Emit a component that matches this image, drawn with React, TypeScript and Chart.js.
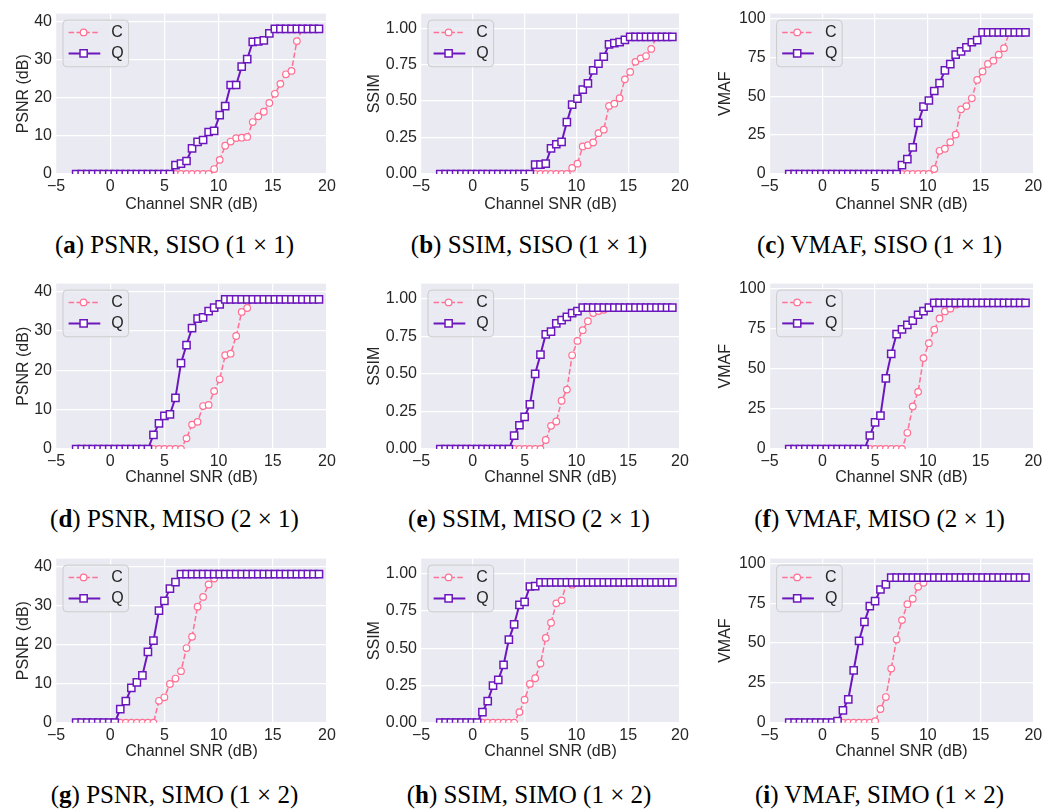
import React, { useEffect, useRef } from "react";
import { Chart, registerables } from "chart.js";

Chart.register(...registerables);

// ---------- data ----------
const snr = [-3.14, -2.63, -2.12, -1.61, -1.1, -0.6, -0.09, 0.42, 0.93, 1.44, 1.95, 2.46, 2.97, 3.48, 3.99, 4.5, 5.0, 5.51, 6.02, 6.53, 7.04, 7.55, 8.06, 8.57, 9.08, 9.59, 10.1, 10.61, 11.11, 11.62, 12.13, 12.64, 13.15, 13.66, 14.17, 14.68, 15.19, 15.7, 16.21, 16.72, 17.22, 17.73, 18.24, 18.75, 19.26];

const xTicks = [-5, 0, 5, 10, 15, 20];
const psnrTicks = [0, 10, 20, 30, 40];
const ssimTicks = [0, 0.25, 0.5, 0.75, 1.0];
const vmafTicks = [0, 25, 50, 75, 100];
const seriesLabels = ["C", "Q"];

// SISO (1x1)
const psnrSisoQ = [0, 0, 0, 0, 0, 0, 0, 0, 0, 0, 0, 0, 0, 0, 0, 0, 0, 0, 2.3, 2.7, 3.4, 6.7, 8.4, 8.9, 11.0, 11.3, 15.4, 17.8, 23.3, 23.3, 28.1, 30.1, 34.6, 34.7, 35.0, 36.8, 38, 38, 38, 38, 38, 38, 38, 38, 38];
const psnrSisoC = [0, 0, 0, 0, 0, 0, 0, 0, 0, 0, 0, 0, 0, 0, 0, 0, 0, 0, 0, 0, 0, 0, 0, 0, 0, 1.3, 3.7, 7.4, 8.5, 9.4, 9.5, 9.7, 13.6, 15.1, 16.3, 18.6, 21.0, 23.6, 26.1, 27.0, 34.8, 38, 38, 38, 38];
const ssimSisoQ = [0, 0, 0, 0, 0, 0, 0, 0, 0, 0, 0, 0, 0, 0, 0, 0, 0, 0, 0.064, 0.064, 0.071, 0.176, 0.204, 0.22, 0.356, 0.476, 0.516, 0.578, 0.622, 0.711, 0.756, 0.804, 0.889, 0.898, 0.904, 0.92, 0.94, 0.94, 0.94, 0.94, 0.94, 0.94, 0.94, 0.94, 0.94];
const ssimSisoC = [0, 0, 0, 0, 0, 0, 0, 0, 0, 0, 0, 0, 0, 0, 0, 0, 0, 0, 0, 0, 0, 0, 0, 0, 0, 0.042, 0.071, 0.189, 0.198, 0.216, 0.28, 0.304, 0.467, 0.482, 0.52, 0.649, 0.7, 0.769, 0.793, 0.809, 0.858, 0.94, 0.94, 0.94, 0.94];
const vmafSisoQ = [0, 0, 0, 0, 0, 0, 0, 0, 0, 0, 0, 0, 0, 0, 0, 0, 0, 0, 0, 0, 0, 5.7, 9.5, 17.1, 32.8, 43.2, 47.2, 53.3, 58.3, 66.5, 70.5, 76.6, 78.7, 81.3, 84.6, 85.9, 91, 91, 91, 91, 91, 91, 91, 91, 91];
const vmafSisoC = [0, 0, 0, 0, 0, 0, 0, 0, 0, 0, 0, 0, 0, 0, 0, 0, 0, 0, 0, 0, 0, 0, 0, 0, 0, 0, 0, 3.2, 14.9, 16.2, 20.4, 25.3, 41.5, 43.6, 48.6, 60.4, 65.9, 70.7, 72.8, 76.6, 80.8, 91, 91, 91, 91];

// MISO (2x1)
const psnrMisoQ = [0, 0, 0, 0, 0, 0, 0, 0, 0, 0, 0, 0, 0, 0, 3.6, 6.5, 8.4, 8.8, 13.0, 21.8, 26.4, 30.7, 33.1, 33.4, 35.0, 35.9, 36.7, 38, 38, 38, 38, 38, 38, 38, 38, 38, 38, 38, 38, 38, 38, 38, 38, 38, 38];
const psnrMisoC = [0, 0, 0, 0, 0, 0, 0, 0, 0, 0, 0, 0, 0, 0, 0, 0, 0, 0, 0, 0, 2.7, 6.2, 6.9, 10.9, 11.2, 14.7, 17.7, 23.8, 24.2, 28.7, 34.8, 35.8, 38, 38, 38, 38, 38, 38, 38, 38, 38, 38, 38, 38, 38];
const ssimMisoQ = [0, 0, 0, 0, 0, 0, 0, 0, 0, 0, 0, 0, 0, 0, 0.089, 0.158, 0.214, 0.297, 0.5, 0.627, 0.763, 0.781, 0.835, 0.857, 0.879, 0.904, 0.917, 0.94, 0.94, 0.94, 0.94, 0.94, 0.94, 0.94, 0.94, 0.94, 0.94, 0.94, 0.94, 0.94, 0.94, 0.94, 0.94, 0.94, 0.94];
const ssimMisoC = [0, 0, 0, 0, 0, 0, 0, 0, 0, 0, 0, 0, 0, 0, 0, 0, 0, 0, 0, 0, 0.06, 0.154, 0.183, 0.321, 0.395, 0.623, 0.719, 0.79, 0.85, 0.904, 0.917, 0.926, 0.94, 0.94, 0.94, 0.94, 0.94, 0.94, 0.94, 0.94, 0.94, 0.94, 0.94, 0.94, 0.94];
const vmafMisoQ = [0, 0, 0, 0, 0, 0, 0, 0, 0, 0, 0, 0, 0, 0, 0, 8.4, 16.6, 20.8, 44.0, 59.2, 71.6, 74.5, 77.3, 80.0, 83.6, 85.9, 88.0, 91, 91, 91, 91, 91, 91, 91, 91, 91, 91, 91, 91, 91, 91, 91, 91, 91, 91];
const vmafMisoC = [0, 0, 0, 0, 0, 0, 0, 0, 0, 0, 0, 0, 0, 0, 0, 0, 0, 0, 0, 0, 0, 0, 10.1, 26.5, 35.6, 56.6, 65.9, 74.3, 81.3, 85.7, 87.4, 89.9, 91, 91, 91, 91, 91, 91, 91, 91, 91, 91, 91, 91, 91];

// SIMO (1x2)
const psnrSimoQ = [0, 0, 0, 0, 0, 0, 0, 0, 3.5, 5.5, 8.9, 10.3, 12.1, 18.1, 21.0, 28.7, 31.2, 34.3, 36.0, 38, 38, 38, 38, 38, 38, 38, 38, 38, 38, 38, 38, 38, 38, 38, 38, 38, 38, 38, 38, 38, 38, 38, 38, 38, 38];
const psnrSimoC = [0, 0, 0, 0, 0, 0, 0, 0, 0, 0, 0, 0, 0, 0, 0, 5.6, 6.5, 9.9, 11.3, 13.2, 19.1, 22.0, 29.7, 32.2, 35.4, 36.9, 38, 38, 38, 38, 38, 38, 38, 38, 38, 38, 38, 38, 38, 38, 38, 38, 38, 38, 38];
const ssimSimoQ = [0, 0, 0, 0, 0, 0, 0, 0, 0.071, 0.145, 0.249, 0.287, 0.387, 0.557, 0.659, 0.79, 0.81, 0.913, 0.915, 0.94, 0.94, 0.94, 0.94, 0.94, 0.94, 0.94, 0.94, 0.94, 0.94, 0.94, 0.94, 0.94, 0.94, 0.94, 0.94, 0.94, 0.94, 0.94, 0.94, 0.94, 0.94, 0.94, 0.94, 0.94, 0.94];
const ssimSimoC = [0, 0, 0, 0, 0, 0, 0, 0, 0, 0, 0, 0, 0, 0, 0, 0.071, 0.154, 0.26, 0.298, 0.396, 0.568, 0.67, 0.8, 0.82, 0.945, 0.925, 0.94, 0.94, 0.94, 0.94, 0.94, 0.94, 0.94, 0.94, 0.94, 0.94, 0.94, 0.94, 0.94, 0.94, 0.94, 0.94, 0.94, 0.94, 0.94];
const vmafSimoQ = [0, 0, 0, 0, 0, 0, 0, 0, 0, 1.0, 7.8, 14.7, 32.9, 51.4, 63.3, 73.2, 76.3, 83.6, 86.8, 91, 91, 91, 91, 91, 91, 91, 91, 91, 91, 91, 91, 91, 91, 91, 91, 91, 91, 91, 91, 91, 91, 91, 91, 91, 91];
const vmafSimoC = [0, 0, 0, 0, 0, 0, 0, 0, 0, 0, 0, 0, 0, 0, 0, 0, 1.0, 8.6, 16.1, 34.0, 52.2, 64.4, 74.4, 77.8, 85.3, 87.8, 91, 91, 91, 91, 91, 91, 91, 91, 91, 91, 91, 91, 91, 91, 91, 91, 91, 91, 91];

// ---------- styles / layout ----------
const COLOR_C = "#ff7094";
const COLOR_Q = "#6c17bd";
const BG = "#eaeaf2";
const TEXT = "#262626";
const FONT = "Liberation Sans";

const METRICS: Record<string, any> = {
  PSNR: { title: "PSNR (dB)", max: 42, ticks: psnrTicks, fmt: (v: number) => String(v) },
  SSIM: { title: "SSIM", max: 1.1, ticks: ssimTicks, fmt: (v: number) => v.toFixed(2) },
  VMAF: { title: "VMAF", max: 103, ticks: vmafTicks, fmt: (v: number) => String(v) },
};

const COLS = [
  { left: 0, width: 350, plotLeft: 56, plotRight: 327, yTitlePad: 13.9, capCenter: 174.5 },
  { left: 350, width: 350, plotLeft: 71, plotRight: 330, yTitlePad: 15.4, capCenter: 529 },
  { left: 700, width: 358, plotLeft: 69.6, plotRight: 333.3, yTitlePad: 15.9, capCenter: 879.5 },
];
const ROWS = [
  { top: 0, height: 220, plotTop: 9.5, plotBottom: 174, xTitlePad: 5.4, capTop: 232 },
  { top: 270, height: 220, plotTop: 13.3, plotBottom: 179, xTitlePad: 2.4, capTop: 506 },
  { top: 545, height: 220, plotTop: 12.7, plotBottom: 177.7, xTitlePad: 3.7, capTop: 782 },
];

const PANELS = [
  { letter: "a", metric: "PSNR", mode: "SISO (1 × 1)", row: 0, col: 0, c: psnrSisoC, q: psnrSisoQ },
  { letter: "b", metric: "SSIM", mode: "SISO (1 × 1)", row: 0, col: 1, c: ssimSisoC, q: ssimSisoQ },
  { letter: "c", metric: "VMAF", mode: "SISO (1 × 1)", row: 0, col: 2, c: vmafSisoC, q: vmafSisoQ },
  { letter: "d", metric: "PSNR", mode: "MISO (2 × 1)", row: 1, col: 0, c: psnrMisoC, q: psnrMisoQ },
  { letter: "e", metric: "SSIM", mode: "MISO (2 × 1)", row: 1, col: 1, c: ssimMisoC, q: ssimMisoQ },
  { letter: "f", metric: "VMAF", mode: "MISO (2 × 1)", row: 1, col: 2, c: vmafMisoC, q: vmafMisoQ },
  { letter: "g", metric: "PSNR", mode: "SIMO (1 × 2)", row: 2, col: 0, c: psnrSimoC, q: psnrSimoQ },
  { letter: "h", metric: "SSIM", mode: "SIMO (1 × 2)", row: 2, col: 1, c: ssimSimoC, q: ssimSimoQ },
  { letter: "i", metric: "VMAF", mode: "SIMO (1 × 2)", row: 2, col: 2, c: vmafSimoC, q: vmafSimoQ },
];

const bgPlugin = {
  id: "plotBg",
  beforeDraw(chart: any) {
    const { ctx, chartArea: a } = chart;
    ctx.save();
    ctx.fillStyle = BG;
    ctx.fillRect(a.left, a.top, a.right - a.left, a.bottom - a.top);
    ctx.restore();
  },
};

const legendPlugin = {
  id: "mplLegend",
  afterDraw(chart: any) {
    const { ctx, chartArea: a } = chart;
    const bx = a.left + 7;
    const by = a.top + 6.5;
    const bw = 65.6;
    const bh = 46.7;
    ctx.save();
    ctx.beginPath();
    if (ctx.roundRect) ctx.roundRect(bx, by, bw, bh, 4);
    else ctx.rect(bx, by, bw, bh);
    ctx.fillStyle = "rgba(234,234,242,0.8)";
    ctx.fill();
    ctx.strokeStyle = "#cccccc";
    ctx.lineWidth = 1;
    ctx.stroke();

    const entries = [
      { label: seriesLabels[0], color: COLOR_C, dash: [5.5, 2.4], lw: 1.5, shape: "circle", y: by + 12.3 },
      { label: seriesLabels[1], color: COLOR_Q, dash: [], lw: 2, shape: "rect", y: by + 33.3 },
    ];
    for (const e of entries) {
      ctx.beginPath();
      ctx.setLineDash(e.dash);
      ctx.strokeStyle = e.color;
      ctx.lineWidth = e.lw;
      ctx.moveTo(bx + 5.6, e.y);
      ctx.lineTo(bx + 37.3, e.y);
      ctx.stroke();
      ctx.setLineDash([]);
      const mx = bx + 20.6;
      ctx.beginPath();
      if (e.shape === "circle") {
        ctx.arc(mx, e.y, 3.3, 0, Math.PI * 2);
        ctx.lineWidth = 1.2;
      } else {
        ctx.rect(mx - 3.6, e.y - 3.6, 7.2, 7.2);
        ctx.lineWidth = 1.5;
      }
      ctx.fillStyle = "#ffffff";
      ctx.fill();
      ctx.stroke();
      ctx.fillStyle = TEXT;
      ctx.font = `16px "${FONT}"`;
      ctx.textBaseline = "middle";
      ctx.textAlign = "left";
      ctx.fillText(e.label, bx + 48.3, e.y + 0.5);
    }
    ctx.restore();
  },
};

function Panel({ p }: { p: any }) {
  const ref = useRef<HTMLCanvasElement | null>(null);
  const col = COLS[p.col];
  const row = ROWS[p.row];
  const m = METRICS[p.metric];

  useEffect(() => {
    if (!ref.current) return;
    const chart = new Chart(ref.current, {
      type: "line",
      data: {
        datasets: [
          {
            label: seriesLabels[1],
            data: snr.map((x, i) => ({ x, y: p.q[i] })),
            borderColor: COLOR_Q,
            borderWidth: 2,
            pointStyle: "rect",
            pointRadius: 5.1,
            pointBorderWidth: 1.5,
            pointBorderColor: COLOR_Q,
            pointBackgroundColor: "#ffffff",
            tension: 0,
            clip: 0,
          } as any,
          {
            label: seriesLabels[0],
            data: snr.map((x, i) => ({ x, y: p.c[i] })),
            borderColor: COLOR_C,
            borderWidth: 1.5,
            borderDash: [5.5, 2.4],
            pointStyle: "circle",
            pointRadius: 3.3,
            pointBorderWidth: 1.2,
            pointBorderColor: COLOR_C,
            pointBackgroundColor: "#ffffff",
            tension: 0,
            clip: 0,
          } as any,
        ],
      },
      options: {
        animation: false,
        responsive: false,
        devicePixelRatio: 1,
        events: [],
        layout: {
          padding: { left: 0, top: row.plotTop, right: col.width - col.plotRight, bottom: 0 },
        },
        plugins: { legend: { display: false }, tooltip: { enabled: false } },
        scales: {
          x: {
            type: "linear",
            min: -5,
            max: 20,
            afterBuildTicks: (s: any) => {
              s.ticks = xTicks.map((v) => ({ value: v }));
            },
            afterFit: (s: any) => {
              s.height = row.height - row.plotBottom;
            },
            grid: { color: "#ffffff", lineWidth: 1.2, drawTicks: false },
            border: { display: false },
            ticks: {
              autoSkip: false,
              maxRotation: 0,
              padding: 3,
              color: TEXT,
              font: { family: FONT, size: 16 },
              callback: (v: any) => (v < 0 ? "\u2212" + Math.abs(v) : String(v)),
            },
            title: {
              display: true,
              text: "Channel SNR (dB)",
              color: TEXT,
              font: { family: FONT, size: 16 },
              padding: { top: 0, bottom: row.xTitlePad },
            },
          },
          y: {
            type: "linear",
            min: 0,
            max: m.max,
            afterBuildTicks: (s: any) => {
              s.ticks = m.ticks.map((v: number) => ({ value: v }));
            },
            afterFit: (s: any) => {
              s.width = col.plotLeft;
            },
            grid: { color: "#ffffff", lineWidth: 1.2, drawTicks: false },
            border: { display: false },
            ticks: {
              autoSkip: false,
              padding: 4,
              color: TEXT,
              font: { family: FONT, size: 16 },
              callback: (v: any) => m.fmt(Number(v)),
            },
            title: {
              display: true,
              text: m.title,
              color: TEXT,
              font: { family: FONT, size: 16 },
              padding: { top: col.yTitlePad, bottom: 0 },
            },
          },
        },
      } as any,
      plugins: [bgPlugin, legendPlugin],
    });
    return () => chart.destroy();
  }, []);

  return (
    <>
      <canvas
        ref={ref}
        width={col.width}
        height={row.height}
        style={{ position: "absolute", left: col.left, top: row.top, width: col.width, height: row.height }}
      />
      <div
        style={{
          position: "absolute",
          left: col.capCenter - 175,
          top: row.capTop,
          width: 350,
          textAlign: "center",
          fontFamily: '"Liberation Serif", serif',
          fontSize: 25,
          lineHeight: "25px",
          color: "#000",
          whiteSpace: "nowrap",
        }}
      >
        (<b>{p.letter}</b>) {p.metric}, {p.mode}
      </div>
    </>
  );
}

export default function App() {
  return (
    <div style={{ position: "absolute", left: 0, top: 0, width: 1058, height: 810, background: "#fff", overflow: "hidden" }}>
      {PANELS.map((p) => (
        <Panel key={p.letter} p={p} />
      ))}
    </div>
  );
}
